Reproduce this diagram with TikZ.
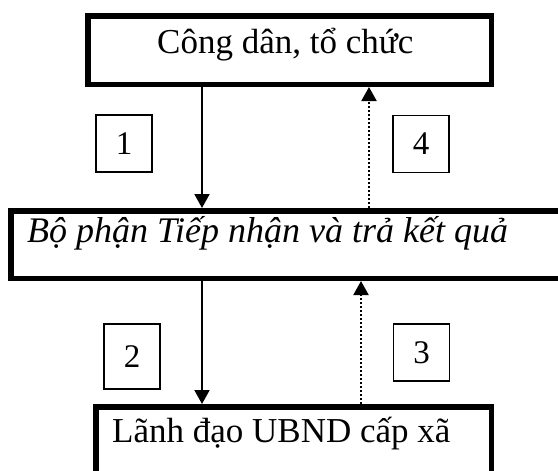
\documentclass[tikz,border=0pt]{standalone}
\usepackage{fontspec}
\setmainfont{Liberation Serif}
\usetikzlibrary{arrows.meta}
\begin{document}
\begin{tikzpicture}[x=1pt,y=-1pt,
  bigbox/.style={draw, line width=5.5pt, rectangle, inner sep=0pt, anchor=north west},
  numbox/.style={draw, line width=1.8pt, rectangle, minimum width=56pt, minimum height=57pt, inner sep=0pt, font=\fontsize{33}{36}\selectfont},
  txt/.style={anchor=base west, inner sep=0pt, font=\fontsize{35}{40}\selectfont},
  flow/.style={line width=2pt, -{Triangle[width=15pt,length=14pt]}},
  back/.style={flow, dash pattern=on 2pt off 2pt}]
\useasboundingbox (0,0) rectangle (558,471);
\clip (0,0) rectangle (558,471);
% main boxes
\node[bigbox, minimum width=403.5pt, minimum height=68.5pt] (top) at (85,13) {};
\node[bigbox, minimum width=600pt, minimum height=67.5pt] (mid) at (8,208) {};
\node[bigbox, minimum width=395.5pt, minimum height=100pt] (bot) at (93,404) {};
% texts
\node[txt] (ttop) at (157,53) {Công dân, tổ chức};
\node[txt, font=\fontsize{36}{40}\selectfont\itshape] (tmid) at (27,242) {Bộ phận Tiếp nhận và trả kết quả};
\node[txt] (tbot) at (112,442) {Lãnh đạo UBND cấp xã};
% number boxes
\node[numbox] (n1) at (124,143.5) {1};
\node[numbox] (n4) at (421,144) {4};
\node[numbox, minimum height=65pt] (n2) at (132,356.5) {2};
\node[numbox] (n3) at (421.5,352.5) {3};
% connector columns
\coordinate (c1) at (202,0);
\coordinate (c4) at (369,0);
\coordinate (c2) at (202,0);
\coordinate (c3) at (361,0);
\draw[flow] (top.south -| c1) -- (mid.north -| c1);
\draw[back] (mid.north -| c4) -- (top.south -| c4);
\draw[flow] (mid.south -| c2) -- (bot.north -| c2);
\draw[back] (bot.north -| c3) -- (mid.south -| c3);
\end{tikzpicture}
\end{document}
